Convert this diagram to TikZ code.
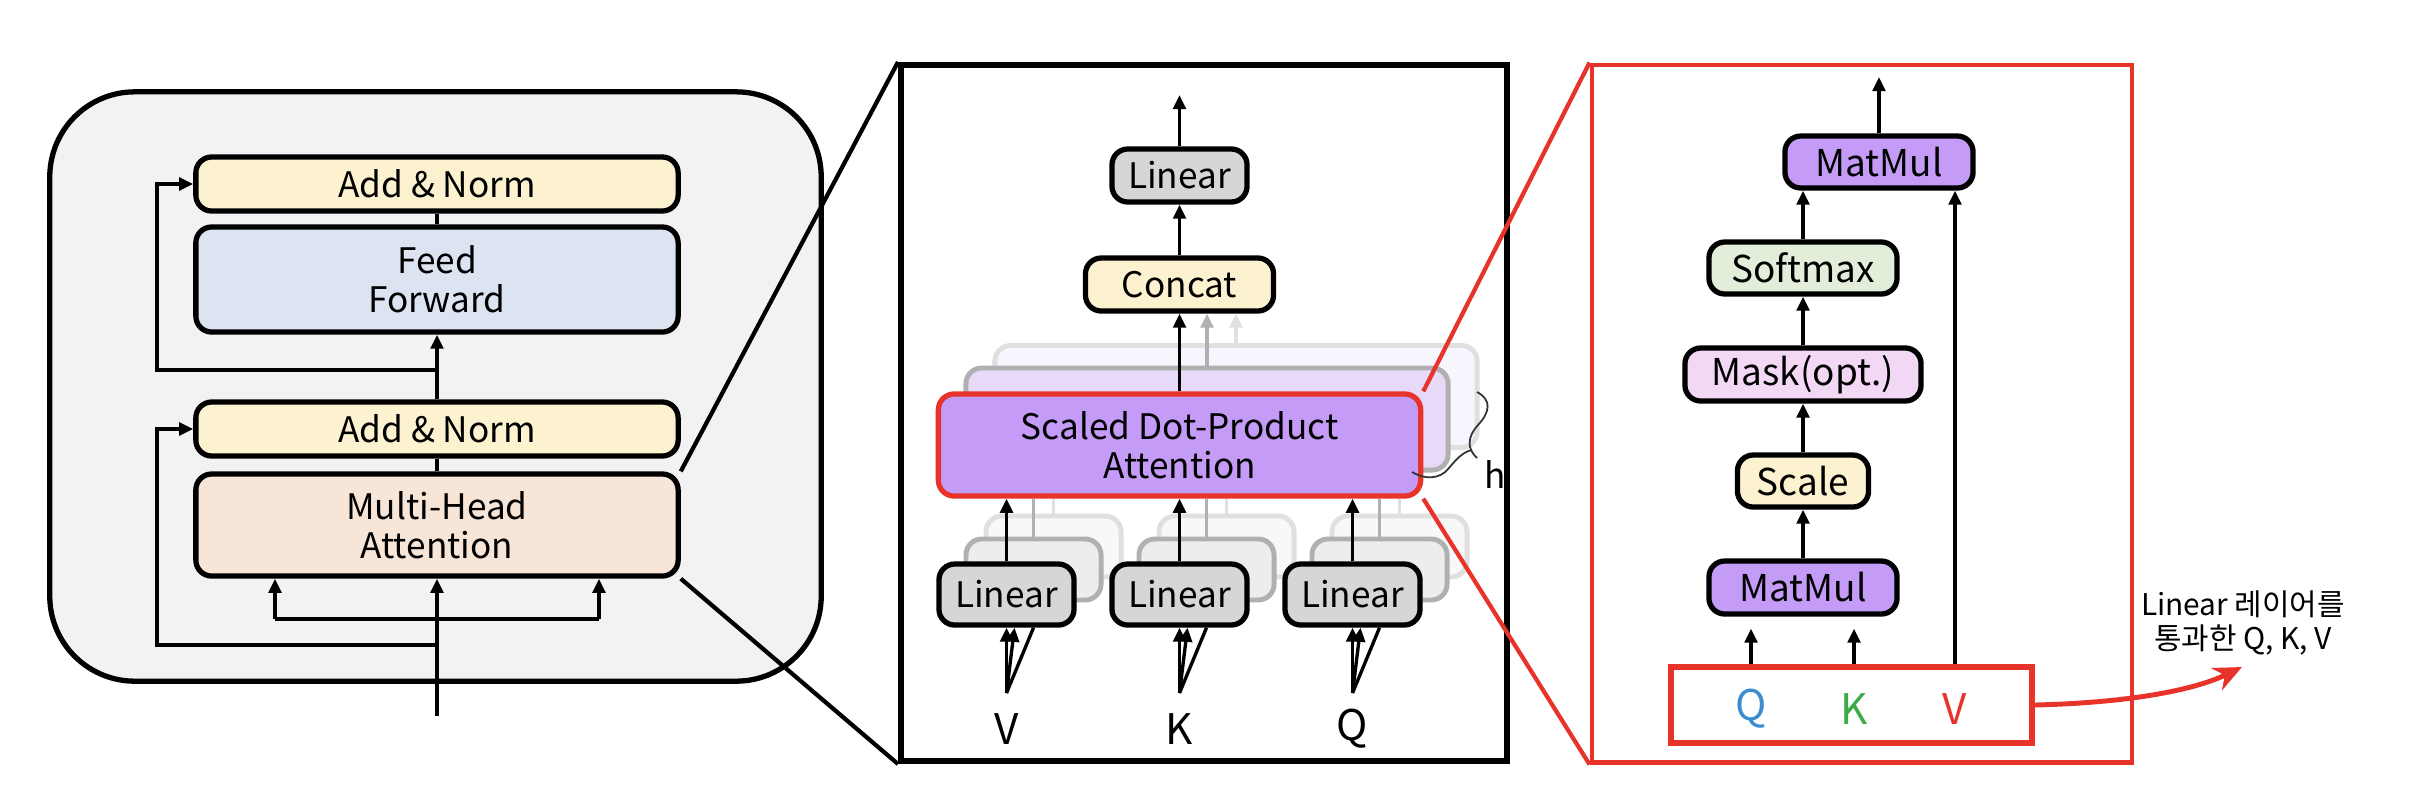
\documentclass[tikz,border=0pt]{standalone}
\usepackage{fontspec}
\setmainfont{Noto Sans CJK KR}
\newfontfamily\kr{Noto Sans CJK KR}
\usetikzlibrary{arrows.meta}
\definecolor{cBg}{HTML}{F2F2F2}
\definecolor{cYel}{HTML}{FDF2D0}
\definecolor{cFF}{HTML}{DDE4F1}
\definecolor{cPeach}{HTML}{F7E5D8}
\definecolor{cLin}{HTML}{D6D6D6}
\definecolor{cPur}{HTML}{C49CF7}
\definecolor{cSoft}{HTML}{E2EEDA}
\definecolor{cMask}{HTML}{F3D8F5}
\definecolor{cRed}{HTML}{E8332A}
\definecolor{cQ}{HTML}{3C8DD0}
\definecolor{cK}{HTML}{3DAA48}
\definecolor{gA}{HTML}{B0B0B0}
\definecolor{gB}{HTML}{E0E0E0}
\definecolor{gpA}{HTML}{E6DAF8}
\definecolor{gpB}{HTML}{F7F5FE}
\definecolor{glA}{HTML}{EDEDED}
\definecolor{glB}{HTML}{F8F8F8}
\begin{document}
\begin{tikzpicture}[x=0.01cm,y=-0.01cm,
  box/.style={draw, line width=1.5pt, rounded corners=4.5pt, inner sep=0pt, align=center,
    font=\fontsize{10}{11.2}\selectfont},
  ghostA/.style={draw=gA, fill=gpA, line width=1.4pt, rounded corners=4.5pt, inner sep=0pt},
  ghostB/.style={draw=gB, fill=gpB, line width=1.4pt, rounded corners=4.5pt, inner sep=0pt},
  lghostA/.style={draw=gA, fill=glA, line width=1.4pt, rounded corners=4.5pt, inner sep=0pt, minimum width=1.35cm, minimum height=0.61cm},
  lghostB/.style={draw=gB, fill=glB, line width=1.4pt, rounded corners=4.5pt, inner sep=0pt, minimum width=1.35cm, minimum height=0.61cm},
  conn/.style={line width=0.95pt},
  arr/.style={line width=0.95pt, -{Triangle[length=4pt,width=3.6pt]}},
  zoomB/.style={line width=1.2pt},
  zoomR/.style={line width=1.2pt, draw=cRed},
  big/.style={inner sep=0pt, font=\fontsize{12}{12}\selectfont},
  rbox/.style={box, font=\fontsize{10.5}{11.2}\selectfont},
]
\useasboundingbox (0,0) rectangle (2418,790);

% ---------------- left panel ----------------
\node[draw, line width=1.5pt, fill=cBg, rounded corners=0.85cm, minimum width=7.71cm, minimum height=5.89cm] (outer) at (435.5,386.5) {};
\node[box, fill=cYel, minimum width=4.82cm, minimum height=0.54cm] (an2) at (437,184) {Add \& Norm};
\node[box, fill=cFF, minimum width=4.82cm, minimum height=1.05cm] (ff) at (437,279.5) {Feed\\Forward};
\node[box, fill=cYel, minimum width=4.82cm, minimum height=0.54cm] (an1) at (437,429) {Add \& Norm};
\node[box, fill=cPeach, minimum width=4.82cm, minimum height=1.02cm] (mha) at (437,525) {Multi-Head\\Attention};

\draw[conn] (mha.north) -- (an1.south);
\draw[arr] (an1.north) -- (ff.south);
\draw[conn] (ff.north) -- (an2.south);
\coordinate (r2) at (437,370);
\draw[arr] (r2) -- (157,370) |- (an2.west);
\coordinate (r1) at (437,645);
\draw[arr] (r1) -- (157,645) |- (an1.west);
\coordinate (inp) at (437,716);
\draw[arr] (inp) -- (mha.south);
\coordinate (bl) at (275,619);
\coordinate (br) at (599,619);
\draw[conn] (bl) -- (br);
\draw[arr] (bl) -- (bl |- mha.south);
\draw[arr] (br) -- (br |- mha.south);

% ---------------- middle panel ----------------
\node[draw, line width=1.6pt, fill=white, minimum width=6.06cm, minimum height=6.96cm] (mpanel) at (1204,413) {};

\node[box, fill=cLin, minimum width=1.35cm, minimum height=0.53cm] (linT) at (1179.5,175.5) {Linear};
\node[box, fill=cYel, minimum width=1.88cm, minimum height=0.53cm] (concat) at (1179.5,284.5) {Concat};

\node[ghostB, minimum width=4.82cm, minimum height=1.02cm] (sg2) at (1236,396.5) {};
\node[ghostA, minimum width=4.82cm, minimum height=1.02cm] (sg1) at (1207,419) {};
\node[box, draw=cRed, fill=cPur, minimum width=4.82cm, minimum height=1.02cm] (sdpa) at (1179.5,445) {Scaled Dot-Product\\Attention};

\draw[arr, draw=gB] (sg2.north) -- (sg2.north |- concat.south);
\draw[arr, draw=gA] (sg1.north) -- (sg1.north |- concat.south);
\draw[arr] (sdpa.north) -- (concat.south);
\draw[arr] (concat.north) -- (linT.south);
\coordinate (outM) at (1179.5,95);
\draw[arr] (linT.north) -- (outM);

\foreach \n/\cx in {V/1006.5, K/1179.5, Q/1352.5} {
  \node[lghostB] (lg2\n) at (\cx+47,546.5) {};
  \node[lghostA] (lg1\n) at (\cx+27,569.5) {};
  \node[box, fill=cLin, minimum width=1.35cm, minimum height=0.61cm] (lin\n) at (\cx,594.5) {Linear};
  \draw[conn, draw=gB] (lg2\n.north) -- (lg2\n.north |- sdpa.south);
  \draw[conn, draw=gA] (lg1\n.north) -- (lg1\n.north |- sdpa.south);
  \draw[arr] (lin\n.north) -- (lin\n.north |- sdpa.south);
  \node[big] (t\n) at (\cx,729) {\n};
  \coordinate (f\n) at (\cx,693);
  \draw[arr] (f\n) -- (lin\n.south);
  \draw[arr] (f\n) -- ([xshift=0.08cm]lin\n.south);
  \draw[conn] (f\n) -- ([xshift=0.27cm]lin\n.south);
}

% brace h
\draw[line width=0.5pt, draw=black!80] (1477,392) .. controls (1492,400) and (1490,412) .. (1478,425) .. controls (1468,436) and (1466,448) .. (1477,458);
\draw[line width=0.5pt, draw=black!80] (1472,450) .. controls (1462,452) and (1456,460) .. (1448,469) .. controls (1440,479) and (1425,480) .. (1412,472);
\node[inner sep=0pt, font=\fontsize{10}{10}\selectfont] (hl) at (1495,474) {h};

% ---------------- right panel ----------------
\node[draw=cRed, line width=1.3pt, minimum width=5.4cm, minimum height=6.97cm] (rpanel) at (1862,413.5) {};
\node[rbox, fill=cPur, minimum width=1.88cm, minimum height=0.52cm] (mmT) at (1879,162) {MatMul};
\node[rbox, fill=cSoft, minimum width=1.88cm, minimum height=0.52cm] (soft) at (1803,268) {Softmax};
\node[rbox, fill=cMask, minimum width=2.36cm, minimum height=0.53cm] (mask) at (1803,374.5) {Mask(opt.)};
\node[rbox, fill=cYel, minimum width=1.31cm, minimum height=0.52cm] (scale) at (1803,481) {Scale};
\node[rbox, fill=cPur, minimum width=1.88cm, minimum height=0.53cm] (mmB) at (1803,587.5) {MatMul};
\node[draw=cRed, line width=1.5pt, minimum width=3.61cm, minimum height=0.76cm, inner sep=0pt] (qkv) at (1851.5,705) {};
\node[big, text=cQ] (lq) at (1751,709) {Q};
\node[big, text=cK] (lk) at (1854,709) {K};
\node[big, text=cRed] (lv) at (1955,709) {V};

\draw[arr] (mmB.north) -- (scale.south);
\draw[arr] (scale.north) -- (mask.south);
\draw[arr] (mask.north) -- (soft.south);
\draw[arr] (soft.north) -- (soft.north |- mmT.south);
\draw[arr, shorten >=0.12cm] (qkv.north -| lq) -- (mmB.south -| lq);
\draw[arr, shorten >=0.12cm] (qkv.north -| lk) -- (mmB.south -| lk);
\draw[arr] (qkv.north -| lv) -- (mmT.south -| lv);
\coordinate (outR) at (1879,77);
\draw[arr] (mmT.north) -- (outR);

% ---------------- zoom lines ----------------
\draw[zoomB] (mha.north east) -- (mpanel.north west);
\draw[zoomB] (mha.south east) -- (mpanel.south west);
\draw[zoomR] (sdpa.north east) -- (rpanel.north west);
\draw[zoomR] (sdpa.south east) -- (rpanel.south west);

% ---------------- annotation ----------------
\coordinate (tip) at (2242,667);
\draw[cRed, line width=1.4pt, -{Stealth[length=8pt,width=7pt]}] (qkv.east) .. controls (2120,703) and (2190,692) .. (tip);
\node[align=center, inner sep=0pt, font=\kr\fontsize{8.5}{9.6}\selectfont] (lbl) at (2243,623) {Linear 레이어를\\통과한 Q, K, V};
\end{tikzpicture}
\end{document}
